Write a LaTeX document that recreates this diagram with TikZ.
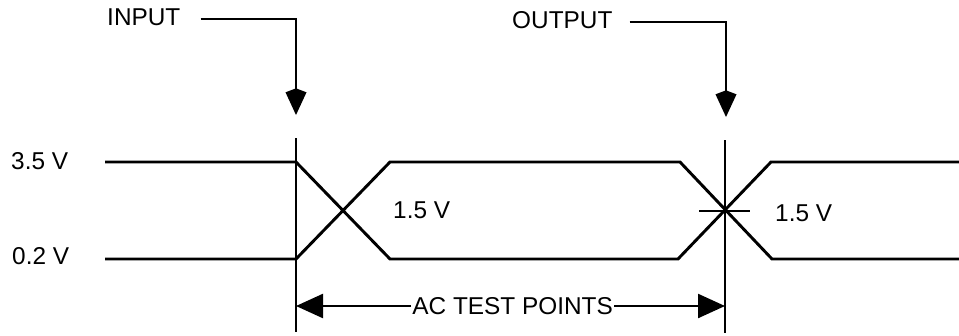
\documentclass[tikz,border=0pt]{standalone}
\usepackage{fontspec}
\setmainfont{Liberation Sans}
\usetikzlibrary{arrows.meta, positioning}

\begin{document}
\begin{tikzpicture}[
  x=0.03cm, y=-0.03cm,
  lbl/.style={inner sep=0pt, anchor=west, font=\fontsize{20.8}{24}\selectfont},
  wave/.style={line width=2.5pt, line join=miter},
  marker/.style={line width=2pt},
  leader/.style={line width=2pt, -{Kite[length=0.8cm, width=0.63cm, inset=0.12cm]}},
  dimarrow/.style={line width=2pt, -{Triangle[length=0.81cm, width=0.72cm]}},
]
\useasboundingbox (0,0) rectangle (959,335);

% Levels
\node[lbl] (hi) at (11,161) {3.5 V};
\node[lbl] (lo) at (12,256) {0.2 V};

% Waveform
\draw[wave] (105,162) -- (296,162) -- (390,259) -- (678,259) -- (771,162) -- (959,162);
\draw[wave] (105,259) -- (296,259) -- (390,162) -- (680,162) -- (772,259) -- (959,259);
\node[lbl] (mid1) at (393,210) {1.5 V};
\node[lbl] (mid2) at (775,213) {1.5 V};

% Test point markers
\coordinate (inTop) at (296,138);
\coordinate (inBot) at (296,332);
\coordinate (outTop) at (725,140);
\coordinate (outBot) at (725,333);
\draw[marker] (inTop) -- (inBot);
\draw[marker] (outTop) -- (outBot);
\draw[marker] (699,211) -- (750,211);

% Input / output pointers
\node[lbl] (input) at (107,17) {INPUT};
\node[lbl] (output) at (512,20) {OUTPUT};
\coordinate (inTip) at (296,115);
\coordinate (outTip) at (726,117);
\draw[leader] (input.east) ++(20,2) -| (inTip);
\draw[leader] (output.east) ++(17,2) -| (outTip);

% AC test points
\node[lbl, inner xsep=1pt] (ac) at (411,306) {AC TEST POINTS};
\coordinate (acL) at (296,306);
\coordinate (acR) at (725,306);
\draw[dimarrow] (ac.west) -- (acL);
\draw[dimarrow] (ac.east) -- (acR);

\end{tikzpicture}
\end{document}
